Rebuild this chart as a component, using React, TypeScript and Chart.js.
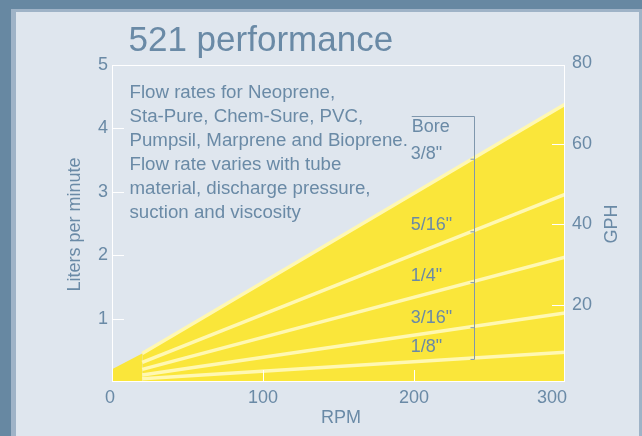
import React, { useEffect, useRef } from "react";
import { Chart, registerables } from "chart.js";

Chart.register(...registerables);

// ---- data ----
const rpmPoints = [20, 300];
const bore38 = [0.45, 4.38];
const bore516 = [0.31, 2.96];
const bore14 = [0.2, 1.97];
const bore316 = [0.11, 1.09];
const bore18 = [0.05, 0.47];
const startupRpm = [0, 20];
const startupFlow = [0.2, 0.45];

const boreNames = ['3/8"', '5/16"', '1/4"', '3/16"', '1/8"'];
const boreLabelFlow = [3.52, 2.4, 1.6, 0.93, 0.47];
const bracketRpm = 240;
const bracketLeftRpm = 198.5;
const bracketTopFlow = 4.2;
const boreTitleFlow = 3.94;

const xTicks = [0, 100, 200, 300];
const lpmTicks = [1, 2, 3, 4, 5];
const gphTicks = [20, 40, 60, 80];
const xInnerTicks = [100, 200];
const lpmInnerTicks = [1, 2, 3, 4];
const gphInnerTicks = [20, 40, 60];

const titleText = "521 performance";
const noteLines = [
  "Flow rates for Neoprene,",
  "Sta-Pure, Chem-Sure, PVC,",
  "Pumpsil, Marprene and Bioprene.",
  "Flow rate varies with tube",
  "material, discharge pressure,",
  "suction and viscosity",
];

const FONT = '"Liberation Sans", Arial, Helvetica, sans-serif';
const TEXT = "#6a8aa6";
const YELLOW = "#fae63a";
const PALE = "#fff8b2";
const BRACKET = "#7f97ad";

const pts = (xs: number[], ys: number[]) => xs.map((x, i) => ({ x, y: ys[i] }));

const boreSeries = [bore38, bore516, bore14, bore316, bore18];

function interp(series: number[], rpm: number) {
  const t = (rpm - rpmPoints[0]) / (rpmPoints[1] - rpmPoints[0]);
  return series[0] + (series[1] - series[0]) * t;
}

const decorPlugin = {
  id: "decor",
  afterDatasetsDraw(chart: any) {
    const { ctx, chartArea: a, scales } = chart;
    const x = scales.x, y = scales.y, y1 = scales.y1;
    ctx.save();
    ctx.strokeStyle = "#ffffff";
    ctx.lineWidth = 1;
    ctx.strokeRect(a.left + 0.5, a.top + 0.5, a.right - a.left - 1, a.bottom - a.top - 1);
    ctx.beginPath();
    lpmInnerTicks.forEach((v) => {
      const py = Math.round(y.getPixelForValue(v)) + 0.5;
      ctx.moveTo(a.left, py);
      ctx.lineTo(a.left + 12, py);
    });
    gphInnerTicks.forEach((v) => {
      const py = Math.round(y1.getPixelForValue(v)) + 0.5;
      ctx.moveTo(a.right - 13, py);
      ctx.lineTo(a.right, py);
    });
    xInnerTicks.forEach((v) => {
      const px = Math.round(x.getPixelForValue(v)) + 0.5;
      ctx.moveTo(px, a.bottom);
      ctx.lineTo(px, a.bottom - 12);
    });
    ctx.stroke();

    // bore bracket
    ctx.strokeStyle = BRACKET;
    ctx.lineWidth = 1;
    const bx = Math.round(x.getPixelForValue(bracketRpm)) + 0.5;
    const bl = x.getPixelForValue(bracketLeftRpm);
    const topY = Math.round(y.getPixelForValue(bracketTopFlow)) + 0.5;
    const tickYs = boreSeries.map((s) => y.getPixelForValue(interp(s, bracketRpm)) + 1.5);
    const botY = tickYs[tickYs.length - 1];
    ctx.beginPath();
    ctx.moveTo(bl, topY);
    ctx.lineTo(bx, topY);
    ctx.lineTo(bx, botY);
    tickYs.forEach((ty) => {
      ctx.moveTo(bx - 4, ty);
      ctx.lineTo(bx, ty);
    });
    ctx.stroke();

    ctx.fillStyle = TEXT;
    ctx.font = `18px ${FONT}`;
    ctx.textAlign = "left";
    ctx.textBaseline = "alphabetic";
    ctx.fillText("Bore", bl, y.getPixelForValue(boreTitleFlow));
    boreNames.forEach((n, i) => {
      ctx.fillText(n, bl - 1, y.getPixelForValue(boreLabelFlow[i]));
    });
    ctx.restore();
  },
  afterDraw(chart: any) {
    const { ctx, chartArea: a, scales } = chart;
    const x = scales.x;
    ctx.save();
    ctx.fillStyle = TEXT;
    ctx.textBaseline = "alphabetic";

    // title
    ctx.font = `35px ${FONT}`;
    ctx.textAlign = "left";
    ctx.fillText(titleText, a.left + 16.5, 51);

    // note block
    ctx.font = `18.7px ${FONT}`;
    noteLines.forEach((line, i) => {
      ctx.fillText(line, a.left + 17.5, a.top + 33.3 + i * 23.9);
    });

    // x tick labels
    ctx.font = `18px ${FONT}`;
    xTicks.forEach((v, i) => {
      const px = x.getPixelForValue(v);
      if (i === xTicks.length - 1) {
        ctx.textAlign = "right";
        ctx.fillText(String(v), px + 2, a.bottom + 20.8);
      } else {
        ctx.textAlign = "center";
        ctx.fillText(String(v), i === 0 ? px - 2 : px, a.bottom + 20.8);
      }
    });

    // axis titles
    ctx.font = `18px ${FONT}`;
    ctx.textAlign = "center";
    ctx.fillText("RPM", (a.left + a.right) / 2 + 2.5, a.bottom + 40.6);

    ctx.save();
    ctx.translate(80, 224.5);
    ctx.rotate(-Math.PI / 2);
    ctx.fillText("Liters per minute", 0, 0);
    ctx.restore();

    ctx.save();
    ctx.translate(616.5, 224);
    ctx.rotate(-Math.PI / 2);
    ctx.fillText("GPH", 0, 0);
    ctx.restore();

    ctx.restore();
  },
};

export default function App() {
  const ref = useRef<HTMLCanvasElement | null>(null);

  useEffect(() => {
    if (!ref.current) return;
    const lineDs = (label: string, data: number[]) => ({
      label,
      data: pts(rpmPoints, data),
      borderColor: PALE,
      borderWidth: 3.5,
      pointRadius: 0,
      fill: false,
      tension: 0,
    });
    const chart = new Chart(ref.current, {
      type: "line",
      data: {
        datasets: [
          {
            label: "startup",
            data: pts(startupRpm, startupFlow),
            borderWidth: 0,
            borderColor: "rgba(0,0,0,0)",
            backgroundColor: YELLOW,
            pointRadius: 0,
            fill: "origin",
          },
          {
            ...lineDs('3/8"', bore38),
            fill: "origin",
            backgroundColor: YELLOW,
          },
          lineDs('5/16"', bore516),
          lineDs('1/4"', bore14),
          lineDs('3/16"', bore316),
          lineDs('1/8"', bore18),
        ],
      },
      options: {
        animation: false,
        responsive: false,
        devicePixelRatio: 1,
        layout: { padding: { top: 65, left: 0, right: 0, bottom: 0 } },
        plugins: {
          legend: { display: false },
          tooltip: { enabled: false },
          title: { display: false },
          filler: { drawTime: "beforeDatasetsDraw" } as any,
        },
        scales: {
          x: {
            type: "linear",
            min: 0,
            max: 300,
            grid: { display: false, drawTicks: false },
            border: { display: false },
            ticks: { display: false },
            afterFit: (s: any) => {
              s.height = 54;
            },
          },
          y: {
            type: "linear",
            position: "left",
            min: 0,
            max: 5,
            grid: { display: false, drawTicks: false },
            border: { display: false },
            afterBuildTicks: (s: any) => {
              s.ticks = lpmTicks.map((v) => ({ value: v }));
            },
            ticks: { color: TEXT, font: { family: FONT, size: 18 }, padding: 4 },
            afterFit: (s: any) => {
              s.width = 112;
            },
          },
          y1: {
            type: "linear",
            position: "right",
            min: 0.9,
            max: 79.5,
            grid: { display: false, drawTicks: false },
            border: { display: false },
            afterBuildTicks: (s: any) => {
              s.ticks = gphTicks.map((v) => ({ value: v }));
            },
            ticks: { color: TEXT, font: { family: FONT, size: 18 }, padding: 7 },
            afterFit: (s: any) => {
              s.width = 77;
            },
          },
        },
      },
      plugins: [decorPlugin],
    });
    return () => chart.destroy();
  }, []);

  return (
    <div style={{ position: "fixed", left: 0, top: 0, width: 642, height: 436, background: "#6788a2", overflow: "hidden" }}>
      <div style={{ position: "absolute", left: 11, top: 9, width: 631, height: 427, background: "#9fb3c7" }} />
      <div style={{ position: "absolute", left: 16, top: 12, width: 623, height: 424, background: "#dfe6ee" }} />
      <canvas ref={ref} width={642} height={436} style={{ position: "absolute", left: 0, top: 0, width: 642, height: 436 }} />
    </div>
  );
}
